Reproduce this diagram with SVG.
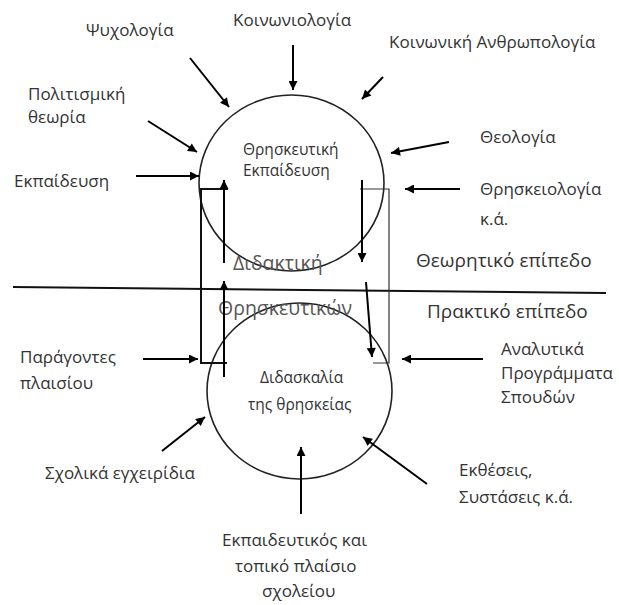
<svg xmlns="http://www.w3.org/2000/svg" width="619" height="605" viewBox="0 0 619 605">
<defs>
<marker id="ah" viewBox="0 0 10 10" refX="10" refY="5" markerWidth="11" markerHeight="9" markerUnits="userSpaceOnUse" orient="auto">
<path d="M0,0 L10,5 L0,10 z" fill="#000"/>
</marker>
<style>
text{font-family:"Open Sans","Noto Sans","DejaVu Sans",sans-serif;fill:#333;font-size:17px}
.ci{font-size:15.5px}
.big{font-size:19.5px;fill:#555}
.lv{font-size:19px}
.arr{stroke:#000;stroke-width:2;fill:none;marker-end:url(#ah)}
.circ{fill:none;stroke:#222;stroke-width:1.6}
.ln{stroke:#111;stroke-width:2;fill:none}
.thin{stroke:#333;stroke-width:1.2;fill:none}
</style>
</defs>
<rect width="619" height="605" fill="#fff"/>

<g id="theory-circle">
<ellipse class="circ" cx="291.5" cy="183" rx="92.5" ry="88"/>
<text class="ci" x="243" y="155">Θρησκευτική</text>
<text class="ci" x="243" y="176">Εκπαίδευση</text>
</g>
<g id="practice-circle">
<ellipse class="circ" cx="299.5" cy="391" rx="92.5" ry="88"/>
<text class="ci" x="260" y="383">Διδασκαλία</text>
<text class="ci" x="248" y="410">της θρησκείας</text>
</g>

<g id="didactics">
<text class="big" x="233" y="270">Διδακτική</text>
<text class="big" x="218" y="315">Θρησκευτικών</text>
</g>

<g id="levels">
<text class="lv" x="416" y="267">Θεωρητικό επίπεδο</text>
<text class="lv" x="427" y="318">Πρακτικό επίπεδο</text>
</g>

<g id="labels">
<g id="psychology"><text x="86" y="36">Ψυχολογία</text></g>
<g id="sociology"><text x="233" y="26">Κοινωνιολογία</text></g>
<g id="social-anthropology"><text x="389" y="48">Κοινωνική Ανθρωπολογία</text></g>
<g id="cultural-theory"><text x="28" y="100">Πολιτισμική</text><text x="28" y="123">θεωρία</text></g>
<g id="education"><text x="14" y="187">Εκπαίδευση</text></g>
<g id="theology"><text x="480" y="143">Θεολογία</text></g>
<g id="religious-studies"><text x="480" y="195">Θρησκειολογία</text><text x="480" y="225">κ.ά.</text></g>
<g id="context-factors"><text x="20" y="363">Παράγοντες</text><text x="20" y="389">πλαισίου</text></g>
<g id="textbooks"><text x="45" y="479">Σχολικά εγχειρίδια</text></g>
<g id="curricula"><text x="501" y="355">Αναλυτικά</text><text x="501" y="379">Προγράμματα</text><text x="501" y="403">Σπουδών</text></g>
<g id="reports"><text x="459" y="476">Εκθέσεις,</text><text x="459" y="503">Συστάσεις κ.ά.</text></g>
<g id="teacher"><text x="222" y="546">Εκπαιδευτικός και</text><text x="235" y="572">τοπικό πλαίσιο</text><text x="262" y="597">σχολείου</text></g>
</g>

<g id="connectors">
<line class="ln" x1="13" y1="287" x2="606" y2="293"/>
<polyline class="ln" points="228,189 201,189 201,363 227,363"/>
<polyline class="thin" points="360,189 389,189 389,363 373,363"/>
<line class="arr" x1="224" y1="263" x2="224" y2="180"/>
<line class="arr" x1="224" y1="377" x2="224" y2="281"/>
<line class="arr" x1="362" y1="180" x2="362" y2="262"/>
<line class="arr" x1="366" y1="282" x2="372" y2="357"/>
<line class="arr" x1="190" y1="58" x2="229" y2="107"/>
<line class="arr" x1="293" y1="45" x2="293" y2="90"/>
<line class="arr" x1="383" y1="77" x2="362" y2="99"/>
<line class="arr" x1="148" y1="121" x2="197" y2="152"/>
<line class="arr" x1="136" y1="176" x2="199" y2="176"/>
<line class="arr" x1="449" y1="142" x2="391" y2="153"/>
<line class="arr" x1="460" y1="189" x2="405" y2="189"/>
<line class="arr" x1="143" y1="359" x2="198" y2="359"/>
<line class="arr" x1="162" y1="451" x2="205" y2="417"/>
<line class="arr" x1="483" y1="359" x2="402" y2="359"/>
<line class="arr" x1="427" y1="484" x2="363" y2="437"/>
<line class="arr" x1="301" y1="514" x2="301" y2="447"/>
</g>
</svg>
